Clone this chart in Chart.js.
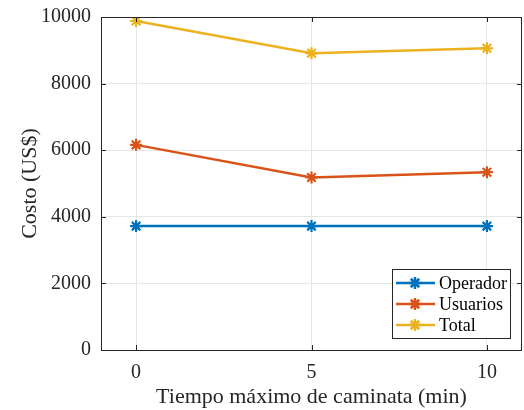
<!DOCTYPE html>
<html>
<head>
<meta charset="utf-8">
<script src="https://cdn.jsdelivr.net/npm/chart.js@4"></script>
<style>
  html, body { margin: 0; padding: 0; background: #fff; }
  #wrap { width: 524px; height: 410px; }
</style>
</head>
<body>
<div id="wrap"><canvas id="grafico" width="524" height="410"></canvas></div>
<script>
// Datos del gráfico
const tiempos = [0, 5, 10];
const operador = [3720, 3720, 3720];
const usuarios = [6160, 5180, 5340];
const total = [9880, 8910, 9060];
const ticksX = [0, 5, 10];
const nombres = ['Operador', 'Usuarios', 'Total'];
const colores = ['#0072BD', '#D95319', '#EDB120'];

const fuente = "'Liberation Serif', 'Times New Roman', serif";
const series = [operador, usuarios, total];

const datasets = series.map((valores, i) => ({
  label: nombres[i],
  data: tiempos.map((t, j) => ({ x: t, y: valores[j] })),
  borderColor: colores[i],
  backgroundColor: colores[i],
  borderWidth: 2.5,
  pointStyle: 'star',
  pointRadius: 6,
  pointBorderWidth: 2.2,
  pointHoverRadius: 6,
  tension: 0,
}));

// Caja de ejes con marcas hacia adentro (estilo MATLAB)
const cajaEjes = {
  id: 'cajaEjes',
  afterDatasetsDraw(chart) {
    const { ctx, chartArea: a, scales } = chart;
    ctx.save();
    ctx.strokeStyle = '#262626';
    ctx.lineWidth = 1;
    ctx.strokeRect(a.left + 0.5, a.top + 0.5, a.right - a.left - 1, a.bottom - a.top);
    const largo = 5;
    ticksX.forEach(v => {
      const x = Math.round(scales.x.getPixelForValue(v)) + 0.5;
      ctx.beginPath();
      ctx.moveTo(x, a.bottom); ctx.lineTo(x, a.bottom - largo);
      ctx.moveTo(x, a.top); ctx.lineTo(x, a.top + largo);
      ctx.stroke();
    });
    scales.y.ticks.forEach(t => {
      const y = Math.round(scales.y.getPixelForValue(t.value)) + 0.5;
      ctx.beginPath();
      ctx.moveTo(a.left, y); ctx.lineTo(a.left + largo, y);
      ctx.moveTo(a.right, y); ctx.lineTo(a.right - largo, y);
      ctx.stroke();
    });
    ctx.restore();
  }
};

// Leyenda dibujada a mano
const leyenda = {
  id: 'leyenda',
  afterDraw(chart) {
    const { ctx } = chart;
    const x0 = 392, y0 = 269, w = 118, h = 69;
    ctx.save();
    ctx.fillStyle = '#fff';
    ctx.fillRect(x0, y0, w, h);
    ctx.strokeStyle = '#262626';
    ctx.lineWidth = 1;
    ctx.strokeRect(x0 + 0.5, y0 + 0.5, w, h);
    ctx.font = '18px ' + fuente;
    ctx.textBaseline = 'middle';
    nombres.forEach((n, i) => {
      const y = y0 + 14 + i * 21;
      ctx.strokeStyle = colores[i];
      ctx.lineWidth = 2.5;
      ctx.beginPath();
      ctx.moveTo(x0 + 4, y); ctx.lineTo(x0 + 43, y);
      ctx.stroke();
      Chart.helpers.drawPoint(ctx, { pointStyle: 'star', radius: 6, rotation: 0, borderWidth: 2.2 }, x0 + 23, y);
      ctx.fillStyle = '#000';
      ctx.fillText(n, x0 + 47, y + 1);
    });
    ctx.restore();
  }
};

new Chart(document.getElementById('grafico'), {
  type: 'line',
  data: { datasets },
  plugins: [cajaEjes, leyenda],
  options: {
    responsive: false,
    animation: false,
    layout: { autoPadding: false, padding: { left: 0, right: 2, top: 17, bottom: 0 } },
    plugins: { legend: { display: false }, tooltip: { enabled: false } },
    scales: {
      x: {
        type: 'linear',
        min: -1,
        max: 11,
        afterBuildTicks: s => { s.ticks = ticksX.map(v => ({ value: v })); },
        afterFit: s => { s.height = 60; s.paddingLeft = 0; s.paddingRight = 0; },
        grid: { color: '#e6e6e6', drawTicks: false },
        border: { display: false },
        ticks: { color: '#262626', font: { family: fuente, size: 20 }, padding: 11 },
        title: { display: true, text: 'Tiempo máximo de caminata (min)', color: '#262626',
                 font: { family: fuente, size: 22 }, padding: { top: 1, bottom: 0 } },
      },
      y: {
        min: 0,
        max: 10000,
        ticks: { stepSize: 2000, color: '#262626', font: { family: fuente, size: 20 }, padding: 10,
                 callback: v => String(v) },
        afterFit: s => { s.width = 101; s.paddingTop = 0; s.paddingBottom = 0; },
        grid: { color: '#e6e6e6', drawTicks: false },
        border: { display: false },
        title: { display: true, text: 'Costo (US$)', color: '#262626',
                 font: { family: fuente, size: 22 }, padding: { top: 17, bottom: 0 } },
      },
    },
  },
});
</script>
</body>
</html>
